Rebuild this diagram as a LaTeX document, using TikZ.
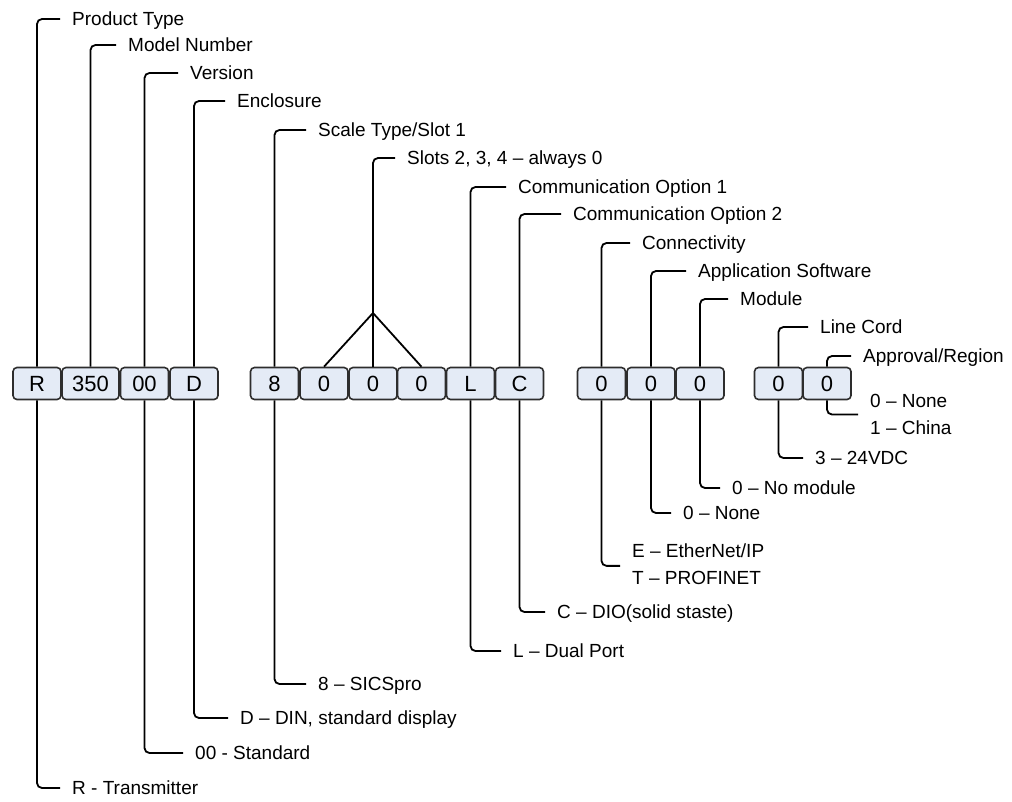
\documentclass[tikz,border=0pt]{standalone}
\usepackage{fontspec}
\setmainfont{Liberation Sans}
\usetikzlibrary{calc}
\definecolor{boxfill}{RGB}{228,235,246}
\definecolor{boxline}{RGB}{45,45,45}
\begin{document}
\begin{tikzpicture}[x=1pt,y=-1pt,
  cell/.style={draw=boxline, line width=1.6pt, fill=boxfill, rounded corners=4pt,
    minimum width=48pt, minimum height=32pt, inner sep=0pt, font=\fontsize{22}{24}\selectfont},
  lbl/.style={anchor=west, inner sep=0pt, text height=13.6pt, text depth=0pt,
    font=\fontsize{19}{22}\selectfont},
  conn/.style={line width=1.8pt, rounded corners=5pt}]
\useasboundingbox (0,0) rectangle (1012,801);

% boxes
\node[cell] (R)   at (37,383.5)  {R};
\node[cell, minimum width=57pt] (M) at (90.5,383.5) {350};
\node[cell] (V)   at (144.5,383.5) {00};
\node[cell] (D)   at (194,383.5) {D};
\node[cell] (S1)  at (274.5,383.5) {8};
\node[cell] (S2)  at (324,383.5) {0};
\node[cell] (S3)  at (373,383.5) {0};
\node[cell] (S4)  at (421.5,383.5) {0};
\node[cell] (L)   at (470.5,383.5) {L};
\node[cell] (C)   at (519.5,383.5) {C};
\node[cell] (K1)  at (601.5,383.5) {0};
\node[cell] (K2)  at (651,383.5) {0};
\node[cell] (K3)  at (700,383.5) {0};
\node[cell] (P1)  at (778.5,383.5) {0};
\node[cell] (P2)  at (827,383.5) {0};

% top labels
\node[lbl] (tR)  at (72,19)   {Product Type};
\node[lbl] (tM)  at (128,45)  {Model Number};
\node[lbl] (tV)  at (190,73)  {Version};
\node[lbl] (tD)  at (237,101) {Enclosure};
\node[lbl] (tS1) at (318,130) {Scale Type/Slot 1};
\node[lbl] (tS)  at (407,158) {Slots 2, 3, 4 – always 0};
\node[lbl] (tL)  at (518,187) {Communication Option 1};
\node[lbl] (tC)  at (573,214) {Communication Option 2};
\node[lbl] (tK1) at (642,243) {Connectivity};
\node[lbl] (tK2) at (698,271) {Application Software};
\node[lbl] (tK3) at (740,299) {Module};
\node[lbl] (tP1) at (820,327) {Line Cord};
\node[lbl] (tP2) at (863,356) {Approval/Region};

% bottom labels
\node[lbl] (bP2a) at (870,401) {0 – None};
\node[lbl] (bP2b) at (870,428) {1 – China};
\node[lbl] (bP1)  at (815,458) {3 – 24VDC};
\node[lbl] (bK3)  at (732,488) {0 – No module};
\node[lbl] (bK2)  at (683,513) {0 – None};
\node[lbl] (bK1a) at (632,551) {E – EtherNet/IP};
\node[lbl] (bK1b) at (632,578) {T – PROFINET};
\node[lbl] (bC)   at (557,612) {C – DIO(solid staste)};
\node[lbl] (bL)   at (513,651) {L – Dual Port};
\node[lbl] (bS1)  at (318,684) {8 – SICSpro};
\node[lbl] (bD)   at (240,718) {D – DIN, standard display};
\node[lbl] (bV)   at (195,753) {00 - Standard};
\node[lbl] (bR)   at (72,788)  {R - Transmitter};

\coordinate (apex) at (373,313);

% top connectors
\draw[conn] (R.north)  |- ([xshift=-12pt]tR.west);
\draw[conn] (M.north)  |- ([xshift=-12pt]tM.west);
\draw[conn] (V.north)  |- ([xshift=-12pt]tV.west);
\draw[conn] (D.north)  |- ([xshift=-12pt]tD.west);
\draw[conn] (S1.north) |- ([xshift=-12pt]tS1.west);
\draw[line width=1.8pt] (S2.north) -- (apex);
\draw[line width=1.8pt] (S4.north) -- (apex);
\draw[line width=1.8pt] (S3.north) -- (apex);
\draw[conn] (apex) |- ([xshift=-12pt]tS.west);
\draw[conn] (L.north)  |- ([xshift=-12pt]tL.west);
\draw[conn] (C.north)  |- ([xshift=-12pt]tC.west);
\draw[conn] (K1.north) |- ([xshift=-12pt]tK1.west);
\draw[conn] (K2.north) |- ([xshift=-12pt]tK2.west);
\draw[conn] (K3.north) |- ([xshift=-12pt]tK3.west);
\draw[conn] (P1.north) |- ([xshift=-12pt]tP1.west);
\draw[conn] (P2.north) |- ([xshift=-12pt]tP2.west);

% bottom connectors
\draw[conn] (P2.south) |- ([xshift=-12pt]$(bP2a.west)!.5!(bP2b.west)$);
\draw[conn] (P1.south) |- ([xshift=-12pt]bP1.west);
\draw[conn] (K3.south) |- ([xshift=-12pt]bK3.west);
\draw[conn] (K2.south) |- ([xshift=-12pt]bK2.west);
\draw[conn] (K1.south) |- ([xshift=-12pt]$(bK1a.west)!.55!(bK1b.west)$);
\draw[conn] (C.south)  |- ([xshift=-12pt]bC.west);
\draw[conn] (L.south)  |- ([xshift=-12pt]bL.west);
\draw[conn] (S1.south) |- ([xshift=-12pt]bS1.west);
\draw[conn] (D.south)  |- ([xshift=-12pt]bD.west);
\draw[conn] (V.south)  |- ([xshift=-12pt]bV.west);
\draw[conn] (R.south)  |- ([xshift=-12pt]bR.west);
\end{tikzpicture}
\end{document}
